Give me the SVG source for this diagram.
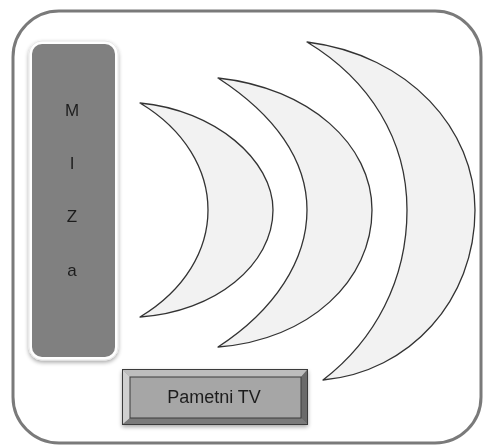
<svg xmlns="http://www.w3.org/2000/svg" width="483" height="446" viewBox="0 0 483 446">
  <defs>
    <filter id="sh" x="-20%" y="-20%" width="140%" height="140%">
      <feGaussianBlur in="SourceAlpha" stdDeviation="2"/>
      <feOffset dx="0" dy="2" result="b"/>
      <feComponentTransfer><feFuncA type="linear" slope="0.35"/></feComponentTransfer>
      <feMerge><feMergeNode/><feMergeNode in="SourceGraphic"/></feMerge>
    </filter>
  </defs>
  <style>
    .moon { fill: #f2f2f2; stroke: #333333; stroke-width: 1.3; stroke-linejoin: round; }
    .lbl { font-family: "Liberation Sans", Arial, sans-serif; fill: #1e1e1e; text-anchor: middle; }
  </style>
  <rect width="483" height="446" fill="#ffffff"/>
  <g id="frame">
    <rect x="13" y="11" width="468" height="432" rx="46" ry="46" fill="#ffffff" stroke="#7a7a7a" stroke-width="3"/>
  </g>
  <g id="miza" filter="url(#sh)">
    <rect x="29" y="41" width="89" height="319" rx="13" ry="13" fill="#ffffff" stroke="#e8e8e8" stroke-width="1"/>
    <rect x="32" y="44" width="83" height="313" rx="10" ry="10" fill="#808080"/>
    <text class="lbl" x="72" y="116" font-size="17">M</text>
    <text class="lbl" x="72" y="169" font-size="17">I</text>
    <text class="lbl" x="72" y="222" font-size="17">Z</text>
    <text class="lbl" x="72" y="276" font-size="17">a</text>
  </g>
  <g id="waves">
    <path class="moon" d="M140,103 C215,110 273,160 273,210 C273,265 215,312 140,317 C185,290 208,250 208,210 C208,170 185,130 140,103 Z"/>
    <path class="moon" d="M218,78 C310,88 372,145 372,210 C372,280 310,340 218,347 C275,310 307,260 307,210 C307,160 275,115 218,78 Z"/>
    <path class="moon" d="M307,42 C410,55 475,130 475,210 C475,300 410,372 323,380 C375,340 407,280 407,210 C407,140 370,80 307,42 Z"/>
  </g>
  <g id="tv" filter="url(#sh)">
    <rect x="122.5" y="369.5" width="185" height="55" fill="#8c8c8c" stroke="#3a3a3a" stroke-width="1"/>
    <polygon points="123,370 307,370 301,377 130,377" fill="#bdbdbd"/>
    <polygon points="123,370 130,377 130,418 123,424" fill="#cfcfcf"/>
    <polygon points="307,370 307,424 301,418 301,377" fill="#6a6a6a"/>
    <polygon points="123,424 130,418 301,418 307,424" fill="#7a7a7a"/>
    <rect x="130" y="377" width="171" height="41" fill="#a6a6a6" stroke="#3a3a3a" stroke-width="1"/>
    <text class="lbl" x="214" y="403" font-size="18">Pametni TV</text>
  </g>
</svg>
